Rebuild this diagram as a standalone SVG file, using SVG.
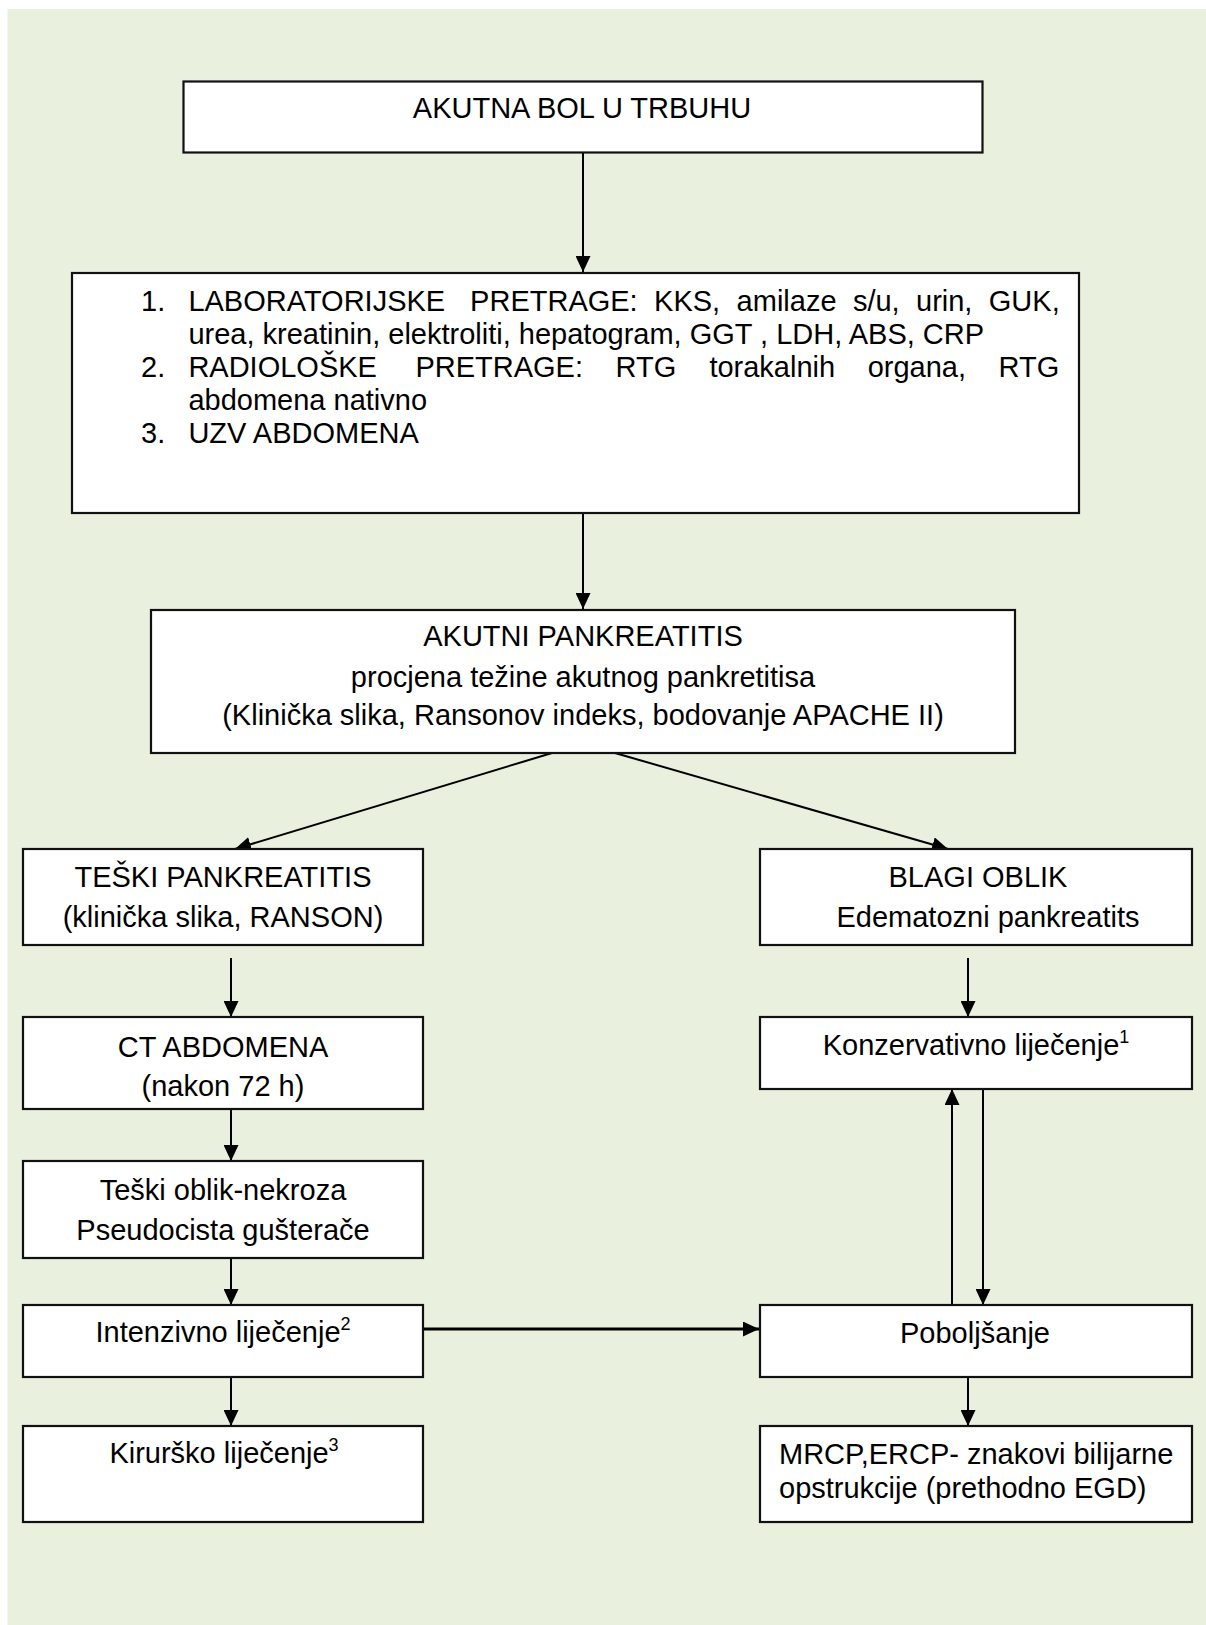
<svg xmlns="http://www.w3.org/2000/svg" width="1206" height="1625" viewBox="0 0 1206 1625">
<style>
.box{fill:#fff;stroke:#111;stroke-width:2.2}
.t{font-family:"Liberation Sans",Arial,sans-serif;font-size:29px;fill:#000}
.c{text-anchor:middle}
.ln{stroke:#000;stroke-width:2;fill:none}
.sup{font-size:18px}
</style>
<defs>
<marker id="ah" markerUnits="userSpaceOnUse" markerWidth="16" markerHeight="15" refX="16" refY="7.5" orient="auto" viewBox="0 0 16 15">
<path d="M0,0 L16,7.5 L0,15 z" fill="#000"/>
</marker>
</defs>
<rect x="7.5" y="9" width="1198.5" height="1616" fill="#E9F0DD"/>

<g id="connectors">
<line class="ln" x1="583" y1="153" x2="583" y2="272" marker-end="url(#ah)"/>
<line class="ln" x1="583" y1="513" x2="583" y2="609" marker-end="url(#ah)"/>
<line class="ln" x1="552" y1="753" x2="235" y2="849" marker-end="url(#ah)"/>
<line class="ln" x1="615" y1="753" x2="948" y2="849" marker-end="url(#ah)"/>
<line class="ln" x1="231" y1="958" x2="231" y2="1017" marker-end="url(#ah)"/>
<line class="ln" x1="968" y1="958" x2="968" y2="1017" marker-end="url(#ah)"/>
<line class="ln" x1="231" y1="1109" x2="231" y2="1161" marker-end="url(#ah)"/>
<line class="ln" x1="231" y1="1258" x2="231" y2="1305" marker-end="url(#ah)"/>
<line class="ln" x1="423" y1="1329" x2="759" y2="1329" style="stroke-width:3" marker-end="url(#ah)"/>
<line class="ln" x1="231" y1="1377" x2="231" y2="1426" marker-end="url(#ah)"/>
<line class="ln" x1="968" y1="1377" x2="968" y2="1426" marker-end="url(#ah)"/>
<line class="ln" x1="952" y1="1305" x2="952" y2="1089" marker-end="url(#ah)"/>
<line class="ln" x1="983" y1="1089" x2="983" y2="1305" marker-end="url(#ah)"/>
</g>

<g id="n1">
<rect class="box" x="183.5" y="81.5" width="799" height="71"/>
<text class="t c" x="582" y="118">AKUTNA BOL U TRBUHU</text>
</g>

<g id="n2">
<rect class="box" x="72" y="273" width="1007" height="240"/>
<text class="t" y="311"><tspan x="141">1.</tspan><tspan x="188.4">LABORATORIJSKE</tspan><tspan x="470.1">PRETRAGE:</tspan><tspan x="654.1">KKS,</tspan><tspan x="736.6">amilaze</tspan><tspan x="852.9">s/u,</tspan><tspan x="916">urin,</tspan><tspan x="988.8">GUK,</tspan></text>
<text class="t" x="188.4" y="344">urea, kreatinin, elektroliti, hepatogram, GGT , LDH, ABS, CRP</text>
<text class="t" y="377"><tspan x="141">2.</tspan><tspan x="188.4">RADIOLOŠKE</tspan><tspan x="415.4">PRETRAGE:</tspan><tspan x="615.6">RTG</tspan><tspan x="709.4">torakalnih</tspan><tspan x="867.7">organa,</tspan><tspan x="998.6">RTG</tspan></text>
<text class="t" x="188.4" y="410">abdomena nativno</text>
<text class="t" y="443"><tspan x="141">3.</tspan><tspan x="188.4">UZV ABDOMENA</tspan></text>
</g>

<g id="n3">
<rect class="box" x="151" y="610" width="864" height="143"/>
<text class="t c" x="583" y="646">AKUTNI PANKREATITIS</text>
<text class="t c" x="583" y="687">procjena težine akutnog pankretitisa</text>
<text class="t c" x="583" y="725">(Klinička slika, Ransonov indeks, bodovanje APACHE II)</text>
</g>

<g id="n4">
<rect class="box" x="23" y="849" width="400" height="96"/>
<text class="t c" x="223" y="887">TEŠKI PANKREATITIS</text>
<text class="t c" x="223" y="927">(klinička slika, RANSON)</text>
</g>

<g id="n5">
<rect class="box" x="760" y="849" width="432" height="96"/>
<text class="t c" x="978" y="887">BLAGI OBLIK</text>
<text class="t c" x="988" y="927">Edematozni pankreatits</text>
</g>

<g id="n6">
<rect class="box" x="23" y="1017" width="400" height="92"/>
<text class="t c" x="223" y="1057">CT ABDOMENA</text>
<text class="t c" x="223" y="1096">(nakon 72 h)</text>
</g>

<g id="n7">
<rect class="box" x="760" y="1017" width="432" height="72"/>
<text class="t c" x="976" y="1055">Konzervativno liječenje<tspan class="sup" dy="-12">1</tspan></text>
</g>

<g id="n8">
<rect class="box" x="23" y="1161" width="400" height="97"/>
<text class="t c" x="223" y="1200">Teški oblik-nekroza</text>
<text class="t c" x="223" y="1240">Pseudocista gušterače</text>
</g>

<g id="n9">
<rect class="box" x="23" y="1305" width="400" height="72"/>
<text class="t c" x="223" y="1342">Intenzivno liječenje<tspan class="sup" dy="-12">2</tspan></text>
</g>

<g id="n10">
<rect class="box" x="760" y="1305" width="432" height="72"/>
<text class="t c" x="975" y="1343">Poboljšanje</text>
</g>

<g id="n11">
<rect class="box" x="23" y="1426" width="400" height="96"/>
<text class="t c" x="224" y="1463">Kirurško liječenje<tspan class="sup" dy="-12">3</tspan></text>
</g>

<g id="n12">
<rect class="box" x="760" y="1426" width="432" height="96"/>
<text class="t" x="779" y="1464">MRCP,ERCP- znakovi bilijarne</text>
<text class="t" x="779" y="1498">opstrukcije (prethodno EGD)</text>
</g>
</svg>
